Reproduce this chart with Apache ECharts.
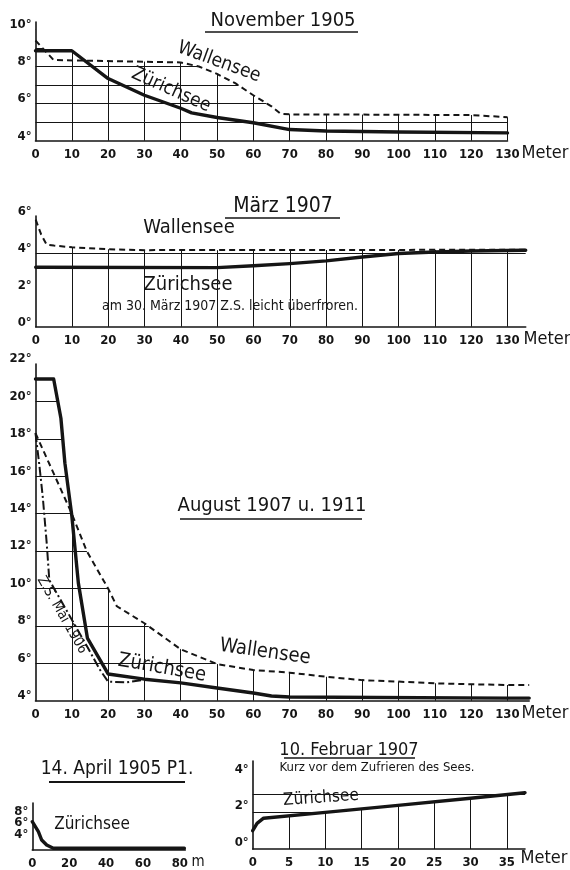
<!DOCTYPE html>
<html><head><meta charset="utf-8">
<script src="https://cdn.jsdelivr.net/npm/echarts@6/dist/echarts.min.js"></script>
<style>html,body{margin:0;padding:0;background:#fff}#c{width:570px;height:870px}</style>
</head><body><div id="c"></div>
<script>
// ---- November 1905 (depth m, temperature °C) ----
const novZurich = [[0,8.85],[10,8.85],[20,7.35],[30,6.45],[40,5.75],[43,5.5],[50,5.25],[60,4.97],[70,4.6],[80,4.52],[100,4.47],[130,4.42]];
const novWallensee = [[0,9.4],[5,8.35],[40,8.22],[45,8.0],[50,7.6],[55,7.1],[60,6.45],[65,5.85],[67.5,5.45],[70,5.42],[100,5.4],[120,5.38],[130,5.27]];
const novGridTop = [[0,9.4],[2.5,8.85],[10,8.85],[12.7,8.35],[40,8.22],[45,8.0],[50,7.6],[55,7.1],[60,6.45],[65,5.85],[67.5,5.45],[70,5.42],[100,5.4],[120,5.38],[130,5.27],[131.5,5.27]];
// ---- März 1907 ----
const marWallensee = [[0,5.8],[1.5,5.0],[3,4.45],[5,4.4],[10,4.3],[20,4.2],[30,4.15],[135,4.17]];
const marZurich = [[0,3.22],[50,3.2],[60,3.3],[70,3.42],[80,3.57],[90,3.78],[100,3.97],[110,4.05],[120,4.1],[135,4.14]];
const marGridTop = [[0,5.8],[1.5,5.0],[3,4.45],[5,4.4],[10,4.3],[20,4.2],[30,4.15],[135,4.17],[136.5,4.17]];
// ---- August 1907 u. 1911 ----
const augZurich = [[0,21.2],[5,21.2],[7,19.1],[8.1,16.7],[10,13.9],[11.8,10.3],[14.3,7.35],[20,5.43],[30,5.15],[40,4.95],[50,4.68],[60,4.41],[65,4.25],[70,4.2],[130,4.14],[136,4.14]];
const augWallensee = [[0,18.3],[10,14.0],[14.1,12.0],[20,10.0],[22.4,9.05],[30,8.14],[40,6.75],[50,5.96],[60,5.64],[70,5.5],[80,5.28],[90,5.1],[100,5.02],[110,4.93],[120,4.88],[130,4.84],[136,4.84]];
const augZSMai1906 = [[0,18.3],[1,16.7],[2,14.9],[3.1,12.4],[3.8,10.45],[14.5,6.8],[17.8,5.64],[20,5.02],[25,4.98],[30,5.12]];
const augGridTop = [[0,21.2],[5,21.2],[7,19.1],[8.1,16.7],[10,13.9],[14.1,12.0],[20,10.0],[22.4,9.05],[30,8.14],[40,6.75],[50,5.96],[60,5.64],[70,5.5],[80,5.28],[90,5.1],[100,5.02],[110,4.93],[120,4.88],[130,4.84],[136,4.84],[137.5,4.84]];
// ---- 14. April 1905 P1. ----
const aprZurich = [[0,7.32],[3.3,5.61],[5.1,4.2],[7.8,3.35],[11.4,2.79],[82.5,2.79]];
// ---- 10. Februar 1907 ----
const febZurich = [[0,1.0],[0.6,1.4],[1.5,1.68],[10,2.0],[20,2.38],[30,2.77],[37.5,3.07]];
const febGuides = [[2,0,10],[3,0,37.5]]; // [temperature, from m, to m]

const FONT = "'DejaVu Sans Condensed','Liberation Sans Narrow','Arial Narrow','DejaVu Sans',sans-serif";
const INK = '#151515';

const chart = echarts.init(document.getElementById('c'));

const panels = [
  {grid:{left:35.5, top:22, width:472, height:118.7}, x:[0,130,10], y:[4,10.4], yGrid:1, yLab:1, vlines:true, lh:9},
  {grid:{left:35.7, top:216, width:490, height:110.7}, x:[0,135,10], y:[0,6], yGrid:4, yLab:2, vlines:true, lh:9},
  {grid:{left:35.5, top:364, width:493.7, height:336.7}, x:[0,136,10], y:[4,22], yGrid:2, yLab:2, vlines:true, lh:10},
  {grid:{left:32.3, top:803, width:153, height:47}, x:[0,83,20], y:[2.5,10.5], yGrid:0, yLab:0.5, vlines:false, lh:13, ylo:4, yhi:8},
  {grid:{left:252.7, top:761, width:272.3, height:88}, x:[0,37.5,5], y:[0,4.8], yGrid:0, yLab:2, vlines:true, lh:13}
];

const grids=[], xAxes=[], yAxes=[];
panels.forEach((p,i)=>{
  grids.push(Object.assign({containLabel:false}, p.grid));
  xAxes.push({gridIndex:i, type:'value', position:'bottom', min:p.x[0], max:p.x[1], interval:p.x[2],
    axisLine:{show:true, onZero:false, lineStyle:{color:INK, width:1.6}}, axisTick:{show:false},
    axisLabel:{color:INK, fontFamily:FONT, fontSize:13, fontWeight:'bold', margin:7,
      formatter:v=> (Math.abs(v/p.x[2]-Math.round(v/p.x[2]))<1e-6 && (i===0 || v < p.x[1]-1e-6)) ? String(v) : ''},
    splitLine:{show:p.vlines, showMinLine:false, showMaxLine:i===0, lineStyle:{color:INK, width:1}}
  });
  yAxes.push({gridIndex:i, type:'value', position:'left', min:p.y[0], max:p.y[1], interval:p.yGrid||1,
    axisLine:{show:false}, axisTick:{show:false}, axisLabel:{show:false},
    splitLine:{show:p.yGrid>0, showMinLine:false, showMaxLine:false, lineStyle:{color:INK, width:1}}
  });
  yAxes.push({gridIndex:i, type:'value', position:'left', offset:0, min:p.y[0], max:p.y[1], interval:p.yLab, z:10,
    axisLine:{show:true, onZero:false, lineStyle:{color:INK, width:1.6}}, axisTick:{show:false}, splitLine:{show:false},
    axisLabel:{color:INK, fontFamily:FONT, fontSize:13, fontWeight:'bold', margin:4, verticalAlign:'bottom', lineHeight:p.lh,
      formatter:v=>{
        const r=Math.round(v);
        if (Math.abs(v-r)>1e-6 || r%2!==0) return '';
        if (p.ylo!==undefined && (r<p.ylo || r>p.yhi)) return '';
        return r+'°';
      }}
  });
});

function mask(i, data){ return {type:'line', xAxisIndex:i, yAxisIndex:2*i, data, symbol:'none', silent:true, z:1, clip:false,
  lineStyle:{width:0, opacity:0}, areaStyle:{color:'#fff', opacity:1, origin:'end'}}; }
function solid(i, data, extra){ return Object.assign({type:'line', xAxisIndex:i, yAxisIndex:2*i, data, symbol:'none', z:4,
  lineStyle:{color:INK, width:3.4, cap:'round', join:'round'}}, extra||{}); }
function dashed(i, data){ return {type:'line', xAxisIndex:i, yAxisIndex:2*i, data, symbol:'none', z:4,
  lineStyle:{color:INK, width:2, type:[6,4]}}; }

const series = [
  mask(0, novGridTop), dashed(0, novWallensee), solid(0, novZurich),
  mask(1, marGridTop), dashed(1, marWallensee), solid(1, marZurich),
  mask(2, augGridTop), dashed(2, augWallensee),
  {type:'line', xAxisIndex:2, yAxisIndex:4, data:augZSMai1906, symbol:'none', z:4, lineStyle:{color:INK, width:2, type:[9,3,2,3]}},
  solid(2, augZurich),
  solid(3, aprZurich),
  mask(4, febZurich),
  solid(4, febZurich, {markLine:{silent:true, symbol:'none', z:6, label:{show:false},
    lineStyle:{color:INK, width:1, type:'solid'},
    data: febGuides.map(g=>[{coord:[g[1],g[0]]},{coord:[g[2],g[0]]}])}})
];

function txt(x,y,text,size,rotDeg,extra){
  return Object.assign({type:'text', x, y, rotation:(rotDeg||0)*Math.PI/180, z:20,
    style:Object.assign({text, fill:INK, fontFamily:FONT, fontSize:size, align:'center', verticalAlign:'middle'}, extra||{})});
}
function rule(x1,x2,y,w){ return {type:'line', z:20, shape:{x1,y1:y,x2,y2:y}, style:{stroke:INK, lineWidth:w||1.5}}; }

const graphic = [
  txt(283,21,'November 1905',20), rule(205,358,32),
  txt(219,62,'Wallensee',19,-20), txt(171,90,'Zürichsee',19,-24),
  txt(545,153,'Meter',18),
  txt(283,207,'März 1907',21), rule(225,340,218),
  txt(189,228,'Wallensee',20), txt(188,285,'Zürichsee',20),
  txt(230,306,'am 30. März 1907 Z.S. leicht überfroren.',14),
  txt(547,339,'Meter',18),
  txt(272,506,'August 1907 u. 1911',20), rule(180,362,519),
  txt(265,652,'Wallensee',20,-8), txt(162,668,'Zürichsee',20,-10),
  txt(62,615,'Z.S. Mai 1906',14,-60),
  txt(545,713,'Meter',18),
  txt(117,769,'14. April 1905 P1.',19), rule(49,185,782,2),
  txt(92,825,'Zürichsee',17),
  txt(198,862,'m',15),
  txt(349,750,'10. Februar 1907',18), rule(284,415,758),
  txt(377,768,'Kurz vor dem Zufrieren des Sees.',13),
  txt(321,798,'Zürichsee',17,4),
  txt(544,858,'Meter',18)
];

chart.setOption({animation:false, backgroundColor:'#fff', grid:grids, xAxis:xAxes, yAxis:yAxes, series, graphic});
</script></body></html>
